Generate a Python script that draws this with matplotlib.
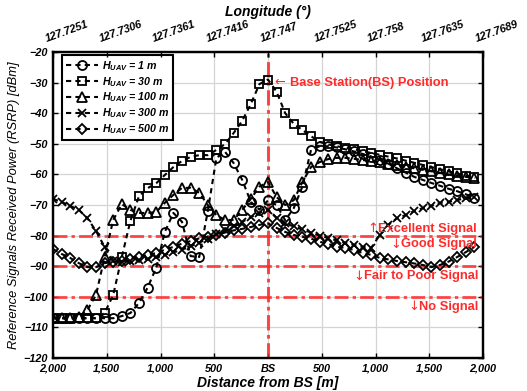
import numpy as np
import matplotlib
matplotlib.use('Agg')
import matplotlib.pyplot as plt
import matplotlib.transforms as mtransforms

# ---------------- data ----------------
dist = np.arange(-2000, 1921, 80)  # signed distance from BS [m]

rsrp_1m = [-107, -107, -107, -107, -107, -107, -107, -107, -106.3, -105.3, -102, -97, -90.5,
           -78.8, -72.6, -75.5, -86.7, -87, -72, -54.6, -52.6, -56.3, -61.8, -69, -71.5,
           -68.5,
           -70, -75, -71, -64, -52, -50.8, -50.8, -51.2, -51.8, -52.5, -53.3, -54.2, -55.3,
           -56.5, -58, -59.4, -60.8, -61.8, -62.8, -63.7, -64.7, -65.5, -66.5, -67.7]
rsrp_30m = [-107, -107, -107, -107, -107, -107, -105.3, -99.4, -87, -75.2, -67.1, -64.5, -62.9,
            -60.2, -57.6, -55.6, -54.3, -53.7, -53.7, -52, -50.1, -46.5, -42.5, -37, -30.5,
            -29,
            -33, -40, -43.5, -45.5, -47.5, -49.4, -50.2, -50.8, -51.3, -51.8, -52.4, -53, -53.6,
            -54.2, -54.8, -55.5, -56.2, -56.9, -57.6, -58.3, -59, -59.7, -60.4, -61]
rsrp_100m = [-107, -107, -107, -106.5, -104.3, -99.4, -87, -74.9, -69.7, -71.6, -72.6, -72.6, -72.3,
             -69.3, -66.7, -64.4, -64.4, -66, -70, -73.3, -74.9, -74.9, -71.6, -68, -64,
             -62.5,
             -67.4, -70, -68.4, -62.5, -57.6, -56, -55, -54.6, -54.6, -54.9, -55.3, -55.7, -56.1,
             -56.5, -57, -57.5, -58, -58.5, -59, -59.5, -60, -60.4, -60.8, -61.2]
rsrp_300m = [-68, -69, -70.3, -71.6, -74.3, -78.5, -83.7, -88.3, -88.5, -88.3, -88, -87.6, -87,
             -86.3, -85.5, -84.6, -83.5, -82.3, -81, -79.6, -78.3, -77, -75.5, -74, -72.5,
             -71.5,
             -74.3, -76, -77, -78, -79, -80, -80.8, -81.6, -82.4, -83, -83.7, -84, -79.8,
             -76.5, -74.3, -73.3, -72, -71, -70.3, -69.3, -69, -68.4, -67.7, -67.4]
rsrp_500m = [-84.4, -86, -87.3, -89, -90.3, -90.3, -89, -88.6, -88.2, -87.6, -87, -86.3, -85.7,
             -84.6, -83.7, -82.6, -81.8, -80.9, -80.4, -79.8, -79, -78.3, -77.8, -77.2, -76.5,
             -76,
             -77.5, -78.8, -79.8, -80.4, -81, -82, -82.7, -83.7, -84, -84.7, -85.7, -86.3, -87.3,
             -87.8, -88.3, -88.7, -89.1, -89.6, -90.3, -89.6, -88.5, -87, -85.4, -83.7]

heights = ['1', '30', '100', '300', '500']
xtick_pos = [-2000, -1500, -1000, -500, 0, 500, 1000, 1500, 2000]
xtick_labels = ['2,000', '1,500', '1,000', '500', 'BS', '500', '1,000', '1,500', '2,000']
lon_labels = ['127.7251', '127.7306', '127.7361', '127.7416', '127.747',
              '127.7525', '127.758', '127.7635', '127.7689']
thresholds = [-80, -90, -100]

# ---------------- style ----------------
plt.rcParams['font.family'] = ['Liberation Sans', 'DejaVu Sans']
plt.rcParams['font.weight'] = 'bold'
plt.rcParams['font.style'] = 'italic'
plt.rcParams['mathtext.fontset'] = 'custom'
plt.rcParams['mathtext.it'] = 'Liberation Sans:bold:italic'
plt.rcParams['mathtext.rm'] = 'Liberation Sans:bold:italic'
plt.rcParams['mathtext.bf'] = 'Liberation Sans:bold:italic'

fig = plt.figure(figsize=(5.27, 3.91), dpi=100)
ax = fig.add_axes([0.1006, 0.0844, 0.8159, 0.7826])

red = '#ff2a2a'
for y in thresholds:
    ax.axhline(y, color=red, lw=2, alpha=0.85, dashes=(5, 1.5, 1.2, 1.5), zorder=1.5)
ax.axvline(0, color=red, lw=2.2, alpha=0.85, dashes=(5, 1.5, 1.2, 1.5), zorder=1.5)

series = [rsrp_1m, rsrp_30m, rsrp_100m, rsrp_300m, rsrp_500m]
markers = ['o', 's', '^', 'x', 'D']
msizes = [6.5, 5.5, 7, 5.5, 5.5]
for vals, m, ms, h in zip(series, markers, msizes, heights):
    ax.plot(dist, vals, color='black', lw=1.5, dashes=(2.5, 2),
            marker=m, ms=ms, mfc='none', mec='black', mew=1.3,
            label=r'$H_{UAV}$ = ' + h + ' m', zorder=3)

ax.set_xlim(-2000, 2000)
ax.set_ylim(-120, -20)
ax.set_xticks(xtick_pos)
ax.set_xticklabels(xtick_labels)
ax.set_yticks(np.arange(-120, -19, 10))
ax.grid(True, color='#d4d4d4', lw=0.9)
ax.set_axisbelow(True)
ax.tick_params(direction='in', length=3.5, width=1, labelsize=7.8, right=True, pad=4)
for s in ax.spines.values():
    s.set_linewidth(1.6)

ax.set_xlabel('Distance from BS [m]', fontsize=10, fontweight='bold', style='italic', labelpad=2)
ax.set_ylabel('Reference Signals Received Power (RSRP) [dBm]', fontsize=9.3,
              fontweight='normal', style='italic', labelpad=2)

ax2 = ax.twiny()
ax2.set_xlim(ax.get_xlim())
ax2.set_xticks(xtick_pos)
ax2.set_xticklabels(lon_labels)
ax2.tick_params(direction='in', length=3.5, width=1, labelsize=7.8, pad=6)
shift = mtransforms.ScaledTranslation(-4 / 72, 0, fig.dpi_scale_trans)
for lab in ax2.get_xticklabels():
    lab.set_rotation(20)
    lab.set_ha('left')
    lab.set_rotation_mode('anchor')
    lab.set_transform(lab.get_transform() + shift)
ax2.set_xlabel('Longitude (°)', fontsize=10, fontweight='bold', style='italic', labelpad=2)
for s in ax2.spines.values():
    s.set_linewidth(1.6)

leg = ax.legend(loc='upper left', bbox_to_anchor=(0.021, 0.99), fontsize=7.7, frameon=True,
                fancybox=False, edgecolor='black', framealpha=1, handlelength=3.0,
                borderaxespad=0, labelspacing=0.2, handletextpad=0.4, borderpad=0.35)
leg.get_frame().set_linewidth(1.5)


def red_label(x, y, txt, arrow, ha):
    t = ax.text(x, y, txt, color=red, fontsize=9.3, fontweight='bold', style='normal',
                va='center', ha=ha, zorder=4)
    ax.annotate(arrow, xy=(0, 0.5), xycoords=t, color=red, fontsize=9.3,
                family='DejaVu Sans', fontweight='normal', style='normal',
                ha='right', va='center', zorder=4)
    return t


red_label(200, -30, 'Base Station(BS) Position', '← ', 'left')
red_label(1940, -77.8, 'Excellent Signal', '↑', 'right')
red_label(1940, -82.8, 'Good Signal', '↓', 'right')
red_label(1960, -93.3, 'Fair to Poor Signal', '↓', 'right')
red_label(1960, -103.2, 'No Signal', '↓', 'right')

fig.savefig('out.png', dpi=100)
